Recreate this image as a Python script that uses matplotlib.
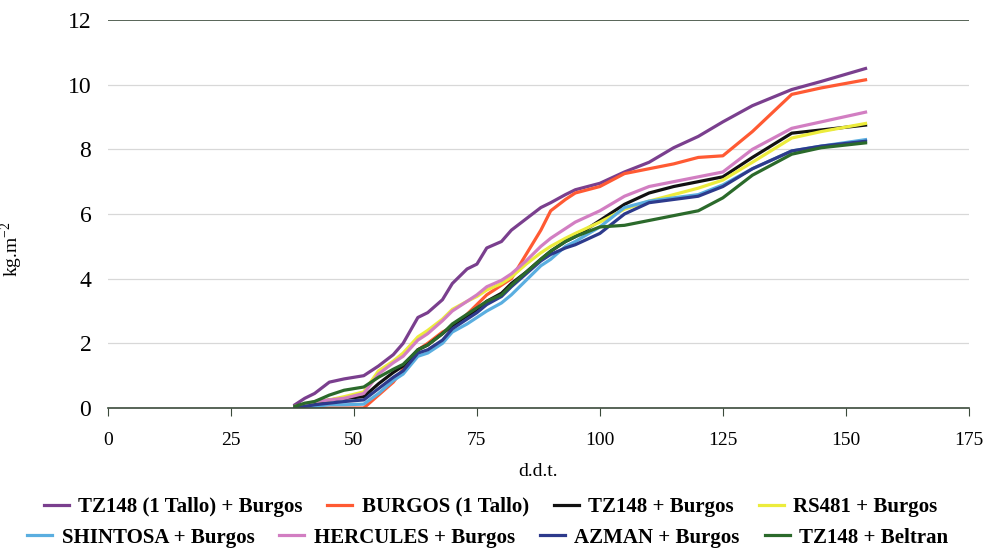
import matplotlib.pyplot as plt

# days after transplant (shared sampling dates)
ddt = [38, 40, 42, 45, 48, 52, 55, 58, 60, 63, 65, 68, 70, 73, 75, 77, 80,
       82, 85, 88, 90, 93, 95, 100, 105, 110, 115, 120, 125, 131, 139, 145, 154]

tz148_1tallo = [0.1, 0.3, 0.45, 0.8, 0.9, 1.0, 1.3, 1.65, 2.0, 2.8, 2.95, 3.35, 3.85, 4.3, 4.45, 4.95, 5.15,
                5.5, 5.85, 6.2, 6.35, 6.6, 6.75, 6.95, 7.3, 7.6, 8.05, 8.4, 8.85, 9.35, 9.85, 10.1, 10.5]
burgos_1tallo = [0.0, 0.0, 0.0, 0.0, 0.0, 0.0, 0.4, 0.8, 1.2, 1.8, 2.0, 2.35, 2.5, 2.9, 3.2, 3.5, 3.8,
                 4.0, 4.75, 5.5, 6.1, 6.45, 6.65, 6.85, 7.25, 7.4, 7.55, 7.75, 7.8, 8.55, 9.7, 9.9, 10.15]
tz148_burgos = [0.05, 0.1, 0.15, 0.25, 0.3, 0.35, 0.75, 1.1, 1.3, 1.8, 1.95, 2.3, 2.55, 2.85, 3.0, 3.3, 3.55,
                3.85, 4.2, 4.6, 4.85, 5.15, 5.3, 5.8, 6.3, 6.65, 6.85, 7.0, 7.15, 7.75, 8.5, 8.6, 8.75]
rs481_burgos = [0.05, 0.1, 0.2, 0.25, 0.35, 0.5, 1.15, 1.45, 1.7, 2.2, 2.4, 2.75, 3.05, 3.3, 3.45, 3.65, 3.85,
                4.05, 4.45, 4.8, 5.0, 5.25, 5.4, 5.75, 6.15, 6.4, 6.6, 6.8, 7.05, 7.6, 8.35, 8.55, 8.8]
shintosa_burgos = [0.0, 0.0, 0.05, 0.1, 0.1, 0.12, 0.45, 0.85, 1.05, 1.6, 1.7, 2.0, 2.35, 2.6, 2.8, 3.0, 3.25,
                   3.5, 3.95, 4.4, 4.6, 5.0, 5.15, 5.6, 6.2, 6.4, 6.5, 6.6, 6.9, 7.4, 7.95, 8.1, 8.3]
hercules_burgos = [0.05, 0.1, 0.2, 0.25, 0.3, 0.45, 1.05, 1.4, 1.6, 2.1, 2.3, 2.7, 3.0, 3.3, 3.5, 3.75, 3.95,
                   4.15, 4.55, 5.0, 5.25, 5.55, 5.75, 6.1, 6.55, 6.85, 7.0, 7.15, 7.3, 8.0, 8.65, 8.85, 9.15]
azman_burgos = [0.0, 0.05, 0.1, 0.15, 0.2, 0.25, 0.6, 0.95, 1.15, 1.7, 1.8, 2.1, 2.45, 2.75, 2.95, 3.2, 3.45,
                3.75, 4.15, 4.55, 4.75, 4.95, 5.05, 5.4, 6.0, 6.35, 6.45, 6.55, 6.85, 7.4, 7.95, 8.1, 8.25]
tz148_beltran = [0.05, 0.15, 0.2, 0.4, 0.55, 0.65, 0.95, 1.2, 1.35, 1.8, 1.95, 2.3, 2.6, 2.9, 3.1, 3.3, 3.5,
                 3.8, 4.2, 4.6, 4.85, 5.15, 5.3, 5.6, 5.65, 5.8, 5.95, 6.1, 6.5, 7.2, 7.85, 8.05, 8.2]

series = [
    ("TZ148 (1 Tallo) + Burgos", tz148_1tallo, "#7a3f8e"),
    ("BURGOS (1 Tallo)", burgos_1tallo, "#ff5a33"),
    ("TZ148 + Burgos", tz148_burgos, "#111111"),
    ("RS481 + Burgos", rs481_burgos, "#ecec3c"),
    ("SHINTOSA + Burgos", shintosa_burgos, "#5aaee0"),
    ("HERCULES + Burgos", hercules_burgos, "#d27ec2"),
    ("AZMAN + Burgos", azman_burgos, "#2d3a8c"),
    ("TZ148 + Beltran", tz148_beltran, "#2b6a2b"),
]

plt.rcParams['font.family'] = ['Liberation Serif', 'DejaVu Serif']
plt.rcParams['mathtext.fontset'] = 'custom'
plt.rcParams['mathtext.rm'] = 'Liberation Serif'

fig = plt.figure(figsize=(9.85, 5.51), dpi=100)
ax = fig.add_axes([0.1096, 0.2595, 0.874, 0.7042])

# gridlines
for yv in [2, 4, 6, 8, 10]:
    ax.axhline(yv, color="#d8d8d8", lw=0.9, zorder=0)
ax.axhline(12, color="#3b4a3b", lw=1.2, zorder=0)

handles = []
for name, vals, col in series:
    h, = ax.plot(ddt, vals, color=col, lw=2.3, label=name, solid_joinstyle="round")
    handles.append(h)

ax.set_xlim(0, 175)
ax.set_ylim(0, 12)
ax.set_xticks([0, 25, 50, 75, 100, 125, 150, 175])
ax.set_yticks([0, 2, 4, 6, 8, 10, 12])
for s in ["top", "right", "left"]:
    ax.spines[s].set_visible(False)
ax.spines["bottom"].set_color("#3b4a3b")
ax.spines["bottom"].set_linewidth(1.2)
ax.tick_params(axis="x", labelsize=14, length=6, color="#3b4a3b", pad=11)
ax.tick_params(axis="y", labelsize=17, length=0, pad=12)
ax.set_xlabel("d.d.t.", fontsize=14, labelpad=10)
ax.set_ylabel("kg.m$^{\\mathrm{-2}}$", fontsize=14)
ax.yaxis.set_label_coords(-0.096, 0.41)

leg_font = {"weight": "bold", "size": 15}
common = dict(ncol=4, frameon=False, prop=leg_font, handlelength=1.2, columnspacing=1.2,
              handletextpad=0.45, borderpad=0, loc="center")
fig.legend(handles[:4], [s[0] for s in series[:4]], bbox_to_anchor=(0.498, 0.08), **common)
fig.legend(handles[4:], [s[0] for s in series[4:]], bbox_to_anchor=(0.495, 0.024), **common)

fig.savefig("out.png", dpi=100)
